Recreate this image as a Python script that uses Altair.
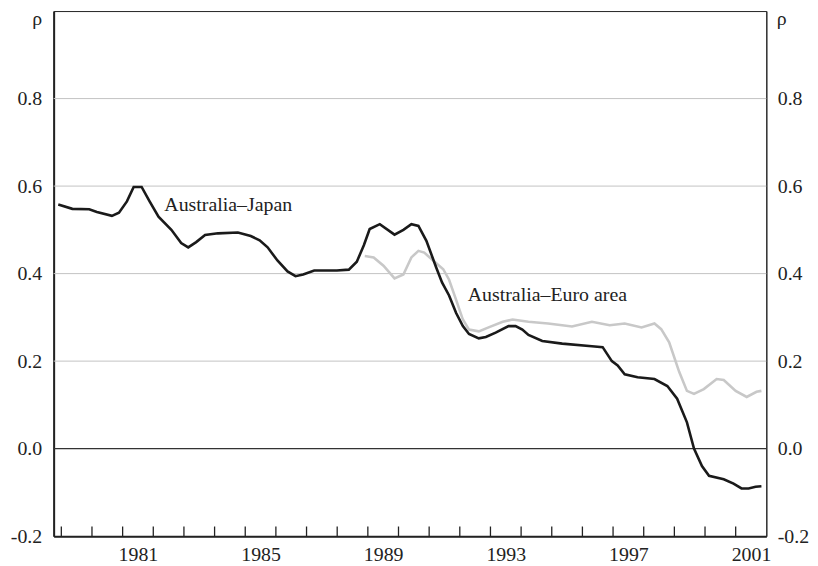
import altair as alt
import pandas as pd

# Australia–Japan (black) : decimal year, correlation
japan_t = [1978.90, 1979.36, 1979.91, 1980.16, 1980.65, 1980.88, 1981.14, 1981.36, 1981.62, 1981.88,
           1982.17, 1982.59, 1982.91, 1983.14, 1983.40, 1983.69, 1984.11, 1984.76, 1985.18, 1985.47,
           1985.73, 1986.05, 1986.38, 1986.64, 1986.89, 1987.25, 1987.99, 1988.38, 1988.64, 1988.87,
           1989.06, 1989.39, 1989.87, 1990.16, 1990.42, 1990.65, 1990.91, 1991.23, 1991.42, 1991.65,
           1991.88, 1992.10, 1992.30, 1992.62, 1992.85, 1993.17, 1993.59, 1993.82, 1994.04, 1994.24,
           1994.69, 1995.34, 1996.31, 1996.66, 1996.96, 1997.15, 1997.38, 1997.80, 1998.35, 1998.77,
           1999.09, 1999.41, 1999.64, 1999.90, 2000.13, 2000.61, 2000.93, 2001.19, 2001.42, 2001.65,
           2001.84]
japan_v = [0.558, 0.548, 0.547, 0.541, 0.532, 0.539, 0.565, 0.598, 0.598, 0.565,
           0.530, 0.500, 0.470, 0.460, 0.472, 0.488, 0.492, 0.494, 0.486, 0.476,
           0.460, 0.430, 0.405, 0.394, 0.398, 0.407, 0.407, 0.409, 0.427, 0.465,
           0.502, 0.513, 0.489, 0.500, 0.513, 0.509, 0.475, 0.414, 0.380, 0.350,
           0.310, 0.280, 0.262, 0.252, 0.255, 0.265, 0.280, 0.280, 0.272, 0.260,
           0.246, 0.240, 0.234, 0.232, 0.200, 0.190, 0.170, 0.163, 0.159, 0.143,
           0.114, 0.060, 0.000, -0.040, -0.062, -0.070, -0.080, -0.091, -0.091, -0.087,
           -0.086]

# Australia–Euro area (grey)
euro_t = [1988.90, 1989.19, 1989.51, 1989.87, 1990.16, 1990.42, 1990.65, 1990.84, 1991.13, 1991.46,
          1991.65, 1991.88, 1992.10, 1992.30, 1992.62, 1992.94, 1993.40, 1993.72, 1994.24, 1994.88,
          1995.66, 1996.31, 1996.89, 1997.38, 1997.93, 1998.35, 1998.57, 1998.83, 1999.16, 1999.41,
          1999.64, 1999.96, 2000.38, 2000.61, 2001.00, 2001.36, 2001.68, 2001.84]
euro_v = [0.440, 0.437, 0.418, 0.389, 0.398, 0.437, 0.452, 0.448, 0.430, 0.410,
          0.386, 0.340, 0.295, 0.272, 0.268, 0.277, 0.290, 0.295, 0.290, 0.286,
          0.279, 0.290, 0.282, 0.286, 0.277, 0.286, 0.273, 0.243, 0.175, 0.132,
          0.125, 0.136, 0.159, 0.157, 0.132, 0.118, 0.130, 0.132]

tick_years = list(range(1979, 2002))
label_years = [1981, 1985, 1989, 1993, 1997, 2001]
y_ticks = [-0.2, 0.0, 0.2, 0.4, 0.6, 0.8]
grid_vals = [0.2, 0.4, 0.6, 0.8]

ann_text = ["Australia\u2013Japan", "Australia\u2013Euro area"]
ann_t = [1982.36, 1992.26]
ann_v = [0.557, 0.350]

FONT = "Liberation Serif"
INK = "#222222"

df_j = pd.DataFrame({"t": japan_t, "v": japan_v})
df_e = pd.DataFrame({"t": euro_t, "v": euro_v})
df_ticks = pd.DataFrame({"t": tick_years})
df_grid = pd.DataFrame({"v": grid_vals})
df_zero = pd.DataFrame({"v": [0.0]})
df_ann = pd.DataFrame({"t": ann_t, "v": ann_v, "label": ann_text})

xscale = alt.Scale(domain=[1978.75, 2002.0], nice=False, zero=False)
yscale = alt.Scale(domain=[-0.2, 1.0], nice=False, zero=False)

label_expr_y = "replace(format(datum.value, '.1f'), '\u2212', '-')"

left_axis = alt.Axis(orient="left", values=y_ticks, labelExpr=label_expr_y, tickSize=0,
                     labelPadding=12, domainWidth=2, domainColor=INK, grid=False,
                     labelFont=FONT, labelFontSize=20, labelColor=INK,
                     title="\u03c1", titleAngle=0, titleX=-17, titleY=14, titleAlign="center",
                     titleBaseline="alphabetic", titleFont=FONT, titleFontSize=20,
                     titleFontWeight="normal", titleColor=INK)
right_axis = alt.Axis(orient="right", values=y_ticks, labelExpr=label_expr_y, tickSize=0,
                      labelPadding=11, domainWidth=1, domainColor=INK, grid=False,
                      labelFont=FONT, labelFontSize=20, labelColor=INK,
                      title="\u03c1", titleAngle=0, titleX=15, titleY=14, titleAlign="center",
                      titleBaseline="alphabetic", titleFont=FONT, titleFontSize=20,
                      titleFontWeight="normal", titleColor=INK)
x_axis = alt.Axis(orient="bottom", values=[y + 0.5 for y in label_years],
                  labelExpr="'' + floor(datum.value)", tickSize=0, labelPadding=9,
                  domainWidth=2, domainColor=INK, grid=False, labelFont=FONT,
                  labelFontSize=20, labelColor=INK, title=None, labelFlush=False)

grid = alt.Chart(df_grid).mark_rule(color="#c4c4c4", strokeWidth=1).encode(
    y=alt.Y("v:Q", scale=yscale, axis=None))
zero = alt.Chart(df_zero).mark_rule(color="#333333", strokeWidth=1.2).encode(
    y=alt.Y("v:Q", scale=yscale, axis=None))
euro = alt.Chart(df_e).mark_line(color="#c8c8c8", strokeWidth=2.6).encode(
    x=alt.X("t:Q", scale=xscale, axis=None),
    y=alt.Y("v:Q", scale=yscale, axis=right_axis))
japan = alt.Chart(df_j).mark_line(color="#1a1a1a", strokeWidth=2.6).encode(
    x=alt.X("t:Q", scale=xscale, axis=x_axis),
    y=alt.Y("v:Q", scale=yscale, axis=left_axis))
ticks = alt.Chart(df_ticks).mark_rule(color=INK, strokeWidth=1.3).encode(
    x=alt.X("t:Q", scale=xscale, axis=None),
    y=alt.YDatum(-0.2, scale=yscale, axis=None),
    y2=alt.Y2Datum(-0.178))
ann = alt.Chart(df_ann).mark_text(font=FONT, fontSize=20, align="left", baseline="middle",
                                  color=INK).encode(
    x=alt.X("t:Q", scale=xscale, axis=None),
    y=alt.Y("v:Q", scale=yscale, axis=None),
    text="label:N")

chart = alt.layer(grid, zero, euro, japan, ticks, ann).resolve_axis(
    y="independent", x="independent"
).properties(
    width=718, height=529,
    autosize=alt.AutoSizeParams(type="none"),
    padding={"left": 46, "top": 1, "right": 44, "bottom": 28},
    background="white",
).configure_view(stroke=INK, strokeWidth=1)

chart.save("out.html", embed_options={"renderer": "svg", "actions": False})
